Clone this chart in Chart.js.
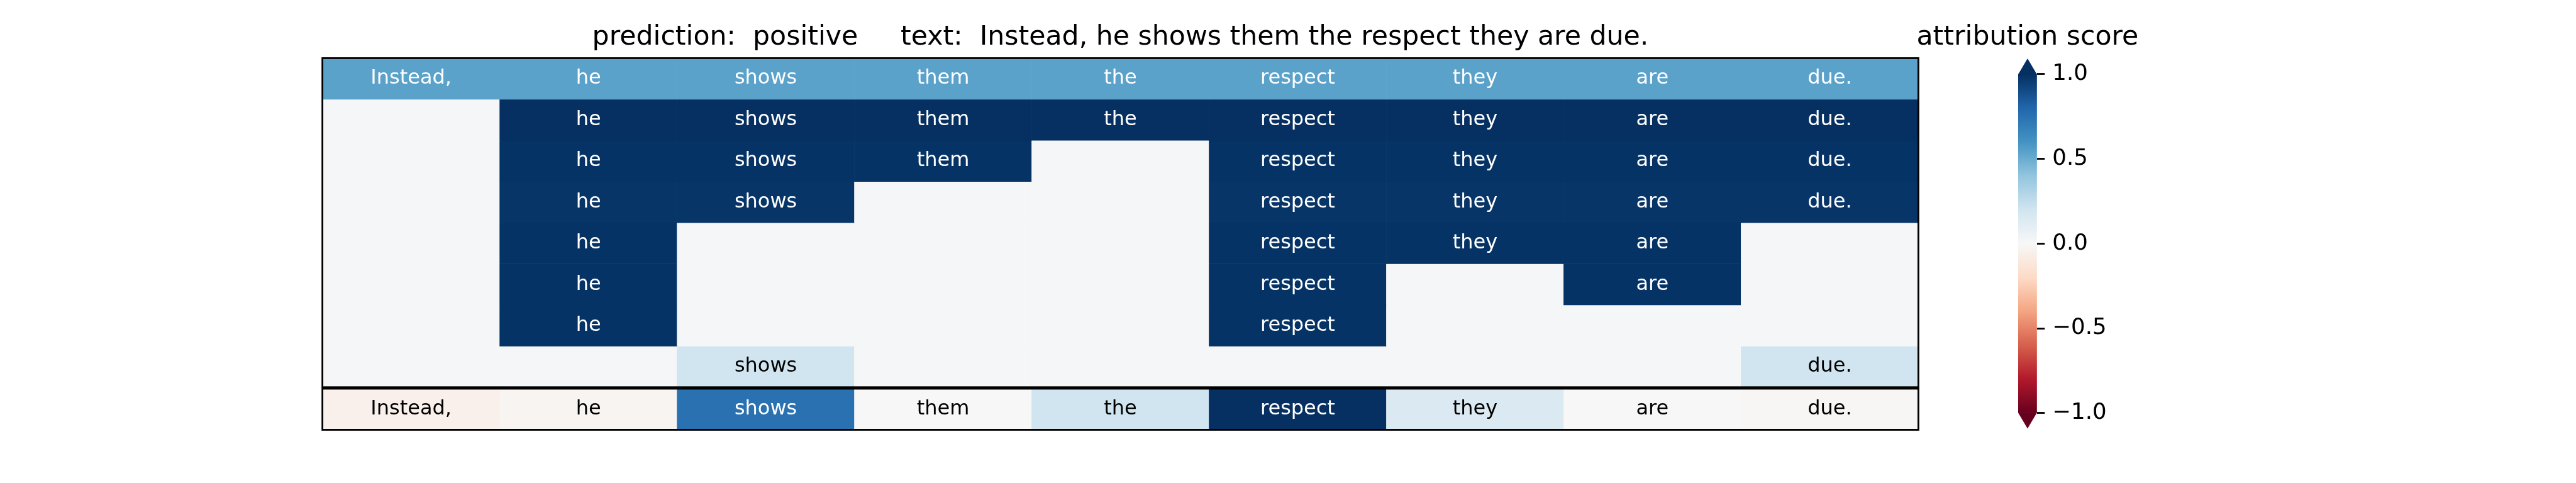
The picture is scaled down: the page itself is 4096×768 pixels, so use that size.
<!DOCTYPE html>
<html lang="en">
<head>
    <meta charset="UTF-8">
    <title>Attribution heatmap</title>
    <script src="https://cdn.jsdelivr.net/npm/chart.js"></script>
    <style>
        body { margin: 0; background: #ffffff; }
        .wrap { position: relative; width: 4096px; height: 768px; }
        .wrap canvas { position: absolute; left: 0; top: 0; }
    </style>
</head>
<body>
<div class="wrap">
    <canvas id="heatmap" width="4096" height="768"></canvas>
    <canvas id="colorbar" width="4096" height="768"></canvas>
</div>
<script>
    // ---- data ----
    const prediction = 'positive';
    const sentence = 'Instead, he shows them the respect they are due.';
    const tokens = ['Instead,', 'he', 'shows', 'them', 'the', 'respect', 'they', 'are', 'due.'];

    // attribution score per token, one array per step; null = token not kept
    const step1 = [0.54, 0.54, 0.54, 0.54, 0.54, 0.54, 0.54, 0.54, 0.54];
    const step2 = [null, 1.0, 1.0, 1.0, 1.0, 1.0, 1.0, 1.0, 1.0];
    const step3 = [null, 0.99, 0.99, 0.99, null, 0.99, 0.99, 0.99, 0.99];
    const step4 = [null, 0.98, 0.98, null, null, 0.98, 0.98, 0.98, 0.98];
    const step5 = [null, 0.99, null, null, null, 0.99, 0.99, 0.99, null];
    const step6 = [null, 0.99, null, null, null, 0.99, null, 0.99, null];
    const step7 = [null, 0.99, null, null, null, 0.99, null, null, null];
    const step8 = [null, null, 0.2, null, null, null, null, null, 0.2];
    const finalScores = [-0.05, -0.02, 0.75, 0.0, 0.2, 1.0, 0.15, 0.0, -0.01];
    const blankScore = 0.01;

    const cbRange = [-1, 1];
    const cbTicks = [-1, -0.5, 0, 0.5, 1];

    const steps = [step1, step2, step3, step4, step5, step6, step7, step8];
    const allRows = steps.concat([finalScores]);

    // ---- look ----
    const S = 0.853;                 // reference -> window
    const FONT = '"DejaVu Sans", "Liberation Sans", sans-serif';
    const gap = 0.035;               // space between the two blocks, in rows

    // matplotlib RdBu stops
    const rdbuStops = [
        [103, 0, 31], [178, 24, 43], [214, 96, 77], [244, 165, 130], [253, 219, 199],
        [247, 247, 247], [209, 229, 240], [146, 197, 222], [67, 147, 195], [33, 102, 172], [5, 48, 97]
    ];

    function rdbu(v) {
        const c = Math.max(-1, Math.min(1, v));
        const p = (c + 1) / 2 * 10;
        const i = Math.min(9, Math.floor(p));
        const t = p - i;
        const a = rdbuStops[i], b = rdbuStops[i + 1];
        const mix = (k) => Math.round(a[k] + (b[k] - a[k]) * t);
        return `rgb(${mix(0)}, ${mix(1)}, ${mix(2)})`;
    }

    function rowTop(r) {
        return r < steps.length ? r : r + gap;
    }

    // ---- heatmap ----
    const heatDatasets = allRows.map((scores, r) => ({
        data: tokens.map(() => [rowTop(r), rowTop(r) + 1]),
        backgroundColor: scores.map(v => rdbu(v === null ? blankScore : v)),
        borderWidth: 0,
        barPercentage: 1,
        categoryPercentage: 1,
        grouped: false
    }));

    // words inside the cells and the black frames
    const cellPlugin = {
        id: 'cells',
        afterDatasetsDraw(chart) {
            const ctx = chart.ctx;
            const fontSize = 37.5 * S;
            ctx.save();
            ctx.font = `${fontSize}px ${FONT}`;
            ctx.textAlign = 'center';
            ctx.textBaseline = 'alphabetic';
            allRows.forEach((scores, r) => {
                const meta = chart.getDatasetMeta(r);
                meta.data.forEach((bar, c) => {
                    const v = scores[c];
                    if (v === null) return;
                    const p = bar.getCenterPoint();
                    ctx.fillStyle = Math.abs(v) > 0.4 ? '#ffffff' : '#000000';
                    ctx.fillText(tokens[c], p.x, p.y + 0.26 * fontSize);
                });
            });

            // spines around both blocks
            const x = chart.scales.x, y = chart.scales.y;
            const left = chart.chartArea.left, right = chart.chartArea.right;
            ctx.strokeStyle = '#000000';
            ctx.lineWidth = 3.3 * S;
            const y0 = y.getPixelForValue(0), y1 = y.getPixelForValue(steps.length);
            ctx.strokeRect(left, y0, right - left, y1 - y0);
            const y2 = y.getPixelForValue(steps.length + gap), y3 = y.getPixelForValue(allRows.length + gap);
            ctx.strokeRect(left, y2, right - left, y3 - y2);

            // title over the heatmap
            ctx.fillStyle = '#000000';
            ctx.font = `${50 * S}px ${FONT}`;
            ctx.fillText(`prediction:  ${prediction}     text:  ${sentence}`, (left + right) / 2, 82.7 * S);
            ctx.restore();
        }
    };

    new Chart(document.getElementById('heatmap').getContext('2d'), {
        type: 'bar',
        data: {
            labels: tokens.map((t, i) => String(i)),
            datasets: heatDatasets
        },
        options: {
            responsive: false,
            animation: false,
            events: [],
            layout: {
                padding: { left: 601 * S, right: 4096 - 3576 * S, top: 108.4 * S, bottom: 768 - 801.2 * S }
            },
            scales: {
                x: { display: false },
                y: { display: false, min: 0, max: allRows.length + gap, reverse: true }
            },
            plugins: {
                legend: { display: false },
                tooltip: { enabled: false }
            }
        },
        plugins: [cellPlugin]
    });

    // ---- colorbar ----
    const extendPlugin = {
        id: 'extend',
        afterDatasetsDraw(chart) {
            const ctx = chart.ctx;
            const a = chart.chartArea;
            const mid = (a.left + a.right) / 2;
            const ext = 29 * S;
            ctx.save();
            ctx.fillStyle = rdbu(cbRange[1]);
            ctx.beginPath();
            ctx.moveTo(a.left, a.top + 0.5);
            ctx.lineTo(mid, a.top - ext);
            ctx.lineTo(a.right, a.top + 0.5);
            ctx.closePath();
            ctx.fill();
            ctx.fillStyle = rdbu(cbRange[0]);
            ctx.beginPath();
            ctx.moveTo(a.left, a.bottom - 0.5);
            ctx.lineTo(mid, a.bottom + ext);
            ctx.lineTo(a.right, a.bottom - 0.5);
            ctx.closePath();
            ctx.fill();

            ctx.fillStyle = '#000000';
            ctx.font = `${50 * S}px ${FONT}`;
            ctx.textAlign = 'center';
            ctx.textBaseline = 'alphabetic';
            ctx.fillText('attribution score', mid, 83.3 * S);
            ctx.restore();
        }
    };

    new Chart(document.getElementById('colorbar').getContext('2d'), {
        type: 'bar',
        data: {
            labels: ['score'],
            datasets: [{
                data: [cbRange],
                backgroundColor: (context) => {
                    const area = context.chart.chartArea;
                    if (!area) return null;
                    const g = context.chart.ctx.createLinearGradient(0, area.bottom, 0, area.top);
                    rdbuStops.forEach((s, i) => g.addColorStop(i / 10, `rgb(${s[0]}, ${s[1]}, ${s[2]})`));
                    return g;
                },
                borderWidth: 0,
                barPercentage: 1,
                categoryPercentage: 1
            }]
        },
        options: {
            responsive: false,
            animation: false,
            events: [],
            layout: {
                padding: { left: 3762 * S, right: 4096 - 3797 * S - 150, top: 138 * S, bottom: 768 - 770 * S }
            },
            scales: {
                x: { display: false },
                y: {
                    position: 'right',
                    min: cbRange[0],
                    max: cbRange[1],
                    afterFit: (scale) => { scale.width = 150; },
                    afterBuildTicks: (scale) => { scale.ticks = cbTicks.map(v => ({ value: v })); },
                    border: { display: false },
                    grid: {
                        display: true,
                        drawOnChartArea: false,
                        drawTicks: true,
                        tickLength: 14.6 * S,
                        tickWidth: 3.3 * S,
                        tickColor: '#000000'
                    },
                    ticks: {
                        padding: 12,
                        color: '#000000',
                        font: { family: FONT, size: 41.7 * S },
                        callback: (v) => v.toFixed(1).replace('-', '\u2212')
                    }
                }
            },
            plugins: {
                legend: { display: false },
                tooltip: { enabled: false }
            }
        },
        plugins: [extendPlugin]
    });
</script>
</body>
</html>
